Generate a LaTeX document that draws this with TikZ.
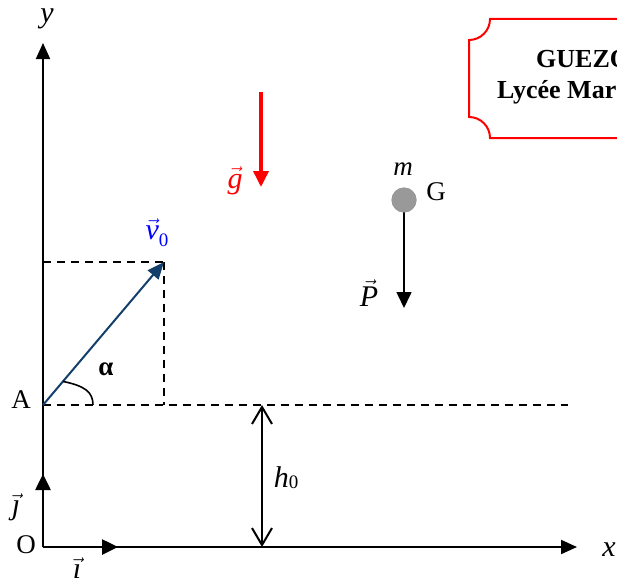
\documentclass[tikz,border=0pt]{standalone}
\usepackage{amsmath}
\usepackage{fontspec}
\setmainfont{Liberation Serif}
\usetikzlibrary{arrows.meta,calc}
\definecolor{vnavy}{HTML}{123F6B}
\definecolor{ballgray}{HTML}{999999}
\newcommand{\subz}[1]{\raisebox{-#1}{\fontsize{19}{19}\selectfont 0}}
\tikzset{
  axisline/.style={line width=2pt, -{Triangle[length=16pt,width=14pt]}},
  unitvec/.style={line width=2.6pt, -{Triangle[length=16pt,width=15pt]}},
  guide/.style={dash pattern=on 8pt off 6pt, line width=1.5pt},
  lbl/.style={inner sep=0pt},
  mlbl/.style={inner sep=0pt, font=\fontsize{30}{34}\selectfont},
}
\begin{document}
\begin{tikzpicture}[x=1pt,y=-1pt,font=\fontsize{27}{32}\selectfont]
\useasboundingbox (0,0) rectangle (617,586);
\clip (0,0) rectangle (617,586);

% key points
\coordinate (O) at (43,547);
\coordinate (A) at (43,405);
\coordinate (V) at (164,262);
\coordinate (Ytip) at (43,43);
\coordinate (Xtip) at (577,547);
\coordinate (Itip) at (118,547);
\coordinate (Jtip) at (43,474);
\coordinate (Vx) at (164,405);
\coordinate (Vy) at (43,262);
\coordinate (Hend) at (568,405);
\coordinate (Htop) at (262,405);
\coordinate (Hbot) at (262,547);
\coordinate (Gtop) at (261,92);
\coordinate (Gtip) at (261,187);
\coordinate (Ptip) at (404,308);

% dashed guides
\draw[guide] (A) -- (Hend);
\draw[guide] (Vy) -- (V);
\draw[guide] (V) -- (Vx);

% axes
\draw[axisline] (O) -- (Ytip);
\draw[axisline] (O) -- (Xtip);

% unit vectors
\draw[unitvec] (O) -- (Itip);
\draw[unitvec] (O) -- (Jtip);

% initial velocity
\draw[vnavy, line width=2pt, -{Triangle[length=17pt,width=14pt]}] (A) -- (V);
\coordinate (Arcs) at ($(A)!0.165!(V)$);
\draw[line width=1.6pt] (Arcs) .. controls (85,386) and (93,392) .. (93,405);

% height
\draw[line width=2pt, {Straight Barb[length=17pt,width=20pt]}-{Straight Barb[length=17pt,width=20pt]}] (Htop) -- (Hbot);

% gravity
\draw[red, line width=3.6pt, -{Triangle[length=16pt,width=15pt]}] (Gtop) -- (Gtip);

% mass and weight
\node[circle, fill=ballgray, minimum size=25pt, inner sep=0pt] (G) at (404,200) {};
\draw[line width=1.6pt, -{Triangle[length=16pt,width=15pt]}] (G.center) -- (Ptip);
\node[circle, fill=ballgray, minimum size=25pt, inner sep=0pt] at (G) {};

% labels
\node[mlbl] (ylab) at (47,19) {\textit{y}};
\node[mlbl] (xlab) at (609,550) {\textit{x}};
\node[lbl] (Olab) at (26,545) {O};
\node[lbl] (Alab) at (21,400) {A};
\node[mlbl] (ilab) at (77,568) {$\vec{\textit{\i}}$};
\node[mlbl] (jlab) at (16,507) {$\vec{\textit{\j}}$};
\node[mlbl, text=blue] (vlab) at (157,233) {$\vec{\textit{v}}$\subz{7pt}};
\node[lbl] (alab) at (106,369) {\textbf{α}};
\node[mlbl] (hlab) at (286,478) {\textit{h}\subz{1pt}};
\node[mlbl, text=red] (glab) at (235,181) {$\vec{\textit{g}}$};
\node[lbl] (mlab) at (403,169) {\textit{m}};
\node[lbl] (Glab) at (436,192) {G};
\node[mlbl] (Plab) at (369,293) {$\vec{\textit{P}}$};

% title box
\draw[red, line width=2pt] (640,19) -- (490,19) arc[start angle=0,end angle=90,radius=21]
  -- (469,117) arc[start angle=-90,end angle=0,radius=21] -- (640,138);
\node[anchor=base west, inner sep=0pt, font=\fontsize{26}{30}\selectfont\bfseries] (t1) at (536,67) {GUEZO};
\node[anchor=base west, inner sep=0pt, font=\fontsize{26}{30}\selectfont\bfseries] (t2) at (497,98) {Lycée Mar};
\end{tikzpicture}
\end{document}
